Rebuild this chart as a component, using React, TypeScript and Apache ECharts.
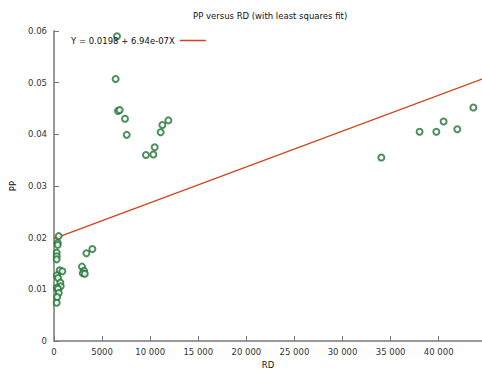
import React, { useEffect, useRef } from "react";
import * as echarts from "echarts";

const rdValues = [
  490, 385, 385, 280, 280, 280, 590, 870, 300, 420, 660, 700, 280, 420, 500, 330, 280,
  3370, 3990, 2910, 3120, 2990, 3200,
  6550, 6410, 6650, 6830, 7380, 7560, 9560, 10330, 10470, 11090, 11270, 11890,
  34030, 38010, 39750, 40510, 41930, 43600,
];
const ppValues = [
  0.0203, 0.019, 0.0186, 0.0171, 0.0164, 0.0158, 0.0137, 0.0135, 0.0127, 0.0122, 0.0113, 0.0106, 0.0103, 0.0101, 0.0093, 0.0085, 0.0074,
  0.017, 0.0178, 0.0144, 0.0136, 0.0131, 0.0130,
  0.059, 0.0507, 0.0445, 0.0447, 0.043, 0.0399, 0.036, 0.0361, 0.0375, 0.0404, 0.0418, 0.0427,
  0.0355, 0.0405, 0.0405, 0.0425, 0.041, 0.0452,
];
const fitIntercept = 0.0198;
const fitSlope = 6.94e-7;
const fitLabel = "Y = 0.0198 + 6.94e-07X";
const xMax = 44500;
const yTicks = [0, 0.01, 0.02, 0.03, 0.04, 0.05, 0.06];

const FONT = "DejaVu Sans";

function fmtX(v: number): string {
  if (v >= 10000) {
    const s = String(Math.round(v));
    return s.slice(0, s.length - 3) + " " + s.slice(s.length - 3);
  }
  return String(v);
}

export default function App() {
  const ref = useRef<HTMLDivElement>(null);
  useEffect(() => {
    if (!ref.current) return;
    const chart = echarts.init(ref.current, null, { renderer: "svg" });
    const pts = rdValues.map((x, i) => [x, ppValues[i]]);
    const fit = [0, xMax].map((x) => [x, fitIntercept + fitSlope * x]);
    chart.setOption({
      animation: false,
      backgroundColor: "#ffffff",
      title: {
        text: "PP versus RD (with least squares fit)",
        left: 193,
        top: 11,
        padding: 0,
        textStyle: { fontFamily: FONT, fontSize: 8.5, fontWeight: "normal", color: "#111" },
      },
      legend: {
        data: [{ name: fitLabel, icon: "rect" }],
        left: 71,
        top: 36,
        padding: 0,
        align: "right",
        itemWidth: 26,
        itemHeight: 1.5,
        itemGap: 4,
        textStyle: { fontFamily: FONT, fontSize: 8.5, color: "#111", padding: [0, 0, 0, 0] },
      },
      grid: { left: 54, right: 0, top: 31, bottom: 29, containLabel: false, outerBoundsMode: "none" },
      xAxis: {
        type: "value",
        min: 0,
        max: xMax,
        interval: 5000,
        name: "RD",
        nameLocation: "middle",
        nameGap: 19,
        nameTextStyle: { fontFamily: FONT, fontSize: 8.5, color: "#111" },
        splitLine: { show: false },
        axisLine: { lineStyle: { color: "#999", width: 2 } },
        axisTick: { inside: true, length: 5, lineStyle: { color: "#777" } },
        axisLabel: {
          fontFamily: FONT,
          fontSize: 8.5,
          color: "#333",
          margin: 6,
          showMaxLabel: false,
          formatter: (v: number) => fmtX(v),
        },
      },
      yAxis: {
        type: "value",
        min: 0,
        max: 0.06,
        interval: 0.01,
        name: "PP",
        nameLocation: "middle",
        nameGap: 32,
        nameTextStyle: { fontFamily: FONT, fontSize: 8.5, color: "#111" },
        splitLine: { show: false },
        axisLine: { show: true, lineStyle: { color: "#999", width: 2 } },
        axisTick: { show: true, inside: true, length: 5, lineStyle: { color: "#777" } },
        axisLabel: {
          fontFamily: FONT,
          fontSize: 8.5,
          color: "#333",
          margin: 7,
          formatter: (v: number) => {
            const m = yTicks.find((t) => Math.abs(t - v) < 1e-9);
            return m === 0 ? "0" : String(Number(v.toFixed(2)));
          },
        },
      },
      series: [
        {
          name: "PP",
          type: "scatter",
          data: pts,
          symbol: "emptyCircle",
          symbolSize: 6,
          itemStyle: { color: "#1f7535", borderColor: "#1f7535", borderWidth: 1 },
          z: 3,
        },
        {
          name: fitLabel,
          type: "line",
          data: fit,
          showSymbol: false,
          symbol: "none",
          lineStyle: { color: "#d4401a", width: 1.3 },
          itemStyle: { color: "#d4401a" },
          z: 2,
        },
      ],
    });
    return () => chart.dispose();
  }, []);
  return <div ref={ref} style={{ width: 482, height: 370, position: "absolute", left: 0, top: 0 }} />;
}
